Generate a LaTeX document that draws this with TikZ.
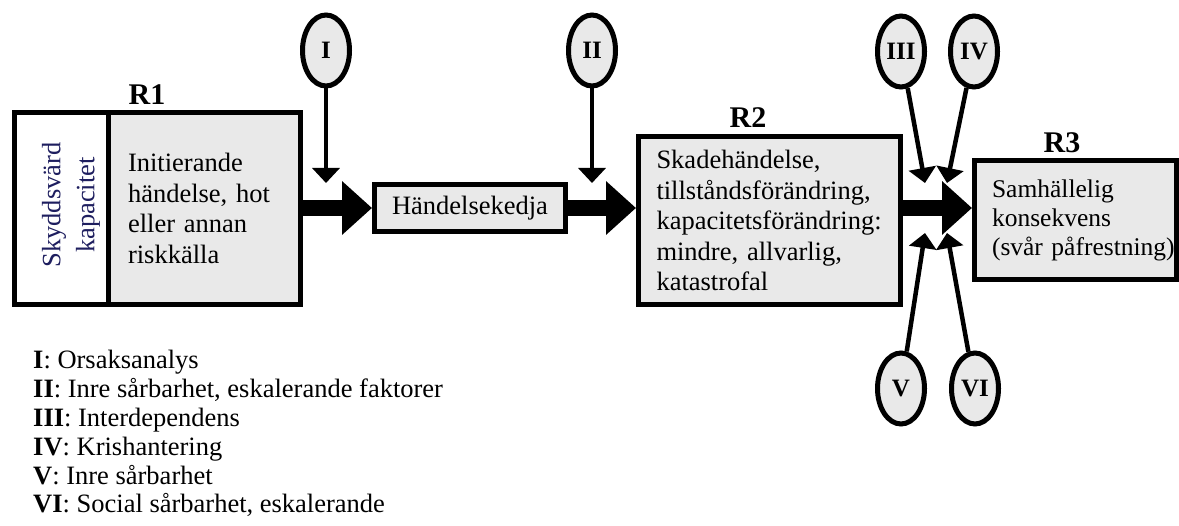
\documentclass[tikz,border=0pt]{standalone}
\usepackage{fontspec}
\setmainfont{Liberation Serif}
\usetikzlibrary{arrows.meta,shapes.geometric}

\definecolor{boxfill}{RGB}{233,233,233}
\definecolor{capink}{RGB}{30,30,95}

\tikzset{
  box/.style={draw=black, line width=5pt, fill=boxfill, rectangle, inner sep=0pt},
  bodytext/.style={font=\fontsize{26.5}{30.5}\selectfont},
  tag/.style={font=\fontsize{30}{34}\selectfont\bfseries, inner sep=0pt},
  factor/.style={draw=black, line width=5pt, fill=boxfill, ellipse, inner sep=0pt,
    minimum width=47pt, minimum height=71pt,
    font=\fontsize{25}{28}\selectfont\bfseries},
  flow/.style={line width=16pt, -{Triangle[length=30pt, width=52pt]}},
  influence/.style={line width=4.5pt, -{Triangle[length=15pt, width=27pt]}},
  legend/.style={anchor=base west, inner sep=0pt, font=\fontsize{26.5}{29}\selectfont},
}

\begin{document}
\begin{tikzpicture}[x=1pt, y=-1pt]
\useasboundingbox (0,0) rectangle (1179,526);

% R1: protected capacity panel and initiating event
\node[box, fill=white, minimum width=93.5pt, minimum height=192pt] (r1a) at (61.25,208.5) {};
\node[box, minimum width=192.5pt, minimum height=192pt, inner xsep=20pt,
      bodytext, align=left, text width=152.5pt] (r1b) at (204.25,208.5)
  {Initierande\\händelse, hot\\eller annan\\riskkälla};
\node[rotate=90, align=center, text=capink,
      font=\fontsize{26.5}{34}\selectfont] (cap) at (71,205)
  {Skyddsvärd\\kapacitet};
\node[tag] (t1) at (147,95) {R1};

% chain of events
\node[box, minimum width=191pt, minimum height=47pt, bodytext] (chain) at (470,208) {Händelsekedja};

% R2: damage event
\node[box, minimum width=262pt, minimum height=168pt, inner xsep=18pt,
      bodytext, align=left, text width=226pt] (r2) at (769.5,220.5)
  {Skadehändelse,\\tillståndsförändring,\\kapacitetsförändring:\\mindre, allvarlig,\\katastrofal};
\node[tag] (t2) at (748,118) {R2};

% R3: societal consequence
\node[box, minimum width=202pt, minimum height=119pt, inner xsep=17.5pt,
      font=\fontsize{25.5}{29}\selectfont, align=left, text width=167pt] (r3) at (1075.5,220)
  {Samhällelig\\konsekvens\\\mbox{(svår påfrestning)}};
\node[tag] (t3) at (1062,143) {R3};

% main flow
\draw[flow] (r1b.east |- chain.west) -- (chain.west);
\draw[flow] (chain.east) -- (r2.west |- chain.east);
\draw[flow] (r2.east |- chain.east) -- (r3.west |- chain.east);

% influencing factors
\node[factor] (f1) at (326,50.5) {I};
\node[factor] (f2) at (592,50.5) {II};
\node[factor] (f3) at (901,51.5) {III};
\node[factor] (f4) at (974,51.5) {IV};
\node[factor] (f5) at (901,388.5) {V};
\node[factor] (f6) at (975,388.5) {VI};

\coordinate (p1) at (326,183);
\coordinate (p2) at (592,183);
\coordinate (p3) at (925,183);
\coordinate (p4) at (947,183);
\coordinate (p5) at (925,233);
\coordinate (p6) at (947,233);

\draw[influence] (f1) -- (p1);
\draw[influence] (f2) -- (p2);
\draw[influence] (f3) -- (p3);
\draw[influence] (f4) -- (p4);
\draw[influence] (f5) -- (p5);
\draw[influence] (f6) -- (p6);

% legend
\node[legend] (l1) at (33,369)   {\textbf{I}: Orsaksanalys};
\node[legend] (l2) at (33,397.8) {\textbf{II}: Inre sårbarhet, eskalerande faktorer};
\node[legend] (l3) at (33,426.6) {\textbf{III}: Interdependens};
\node[legend] (l4) at (33,455.4) {\textbf{IV}: Krishantering};
\node[legend] (l5) at (33,484.2) {\textbf{V}: Inre sårbarhet};
\node[legend] (l6) at (33,513)   {\textbf{VI}: Social sårbarhet, eskalerande};
\end{tikzpicture}
\end{document}
